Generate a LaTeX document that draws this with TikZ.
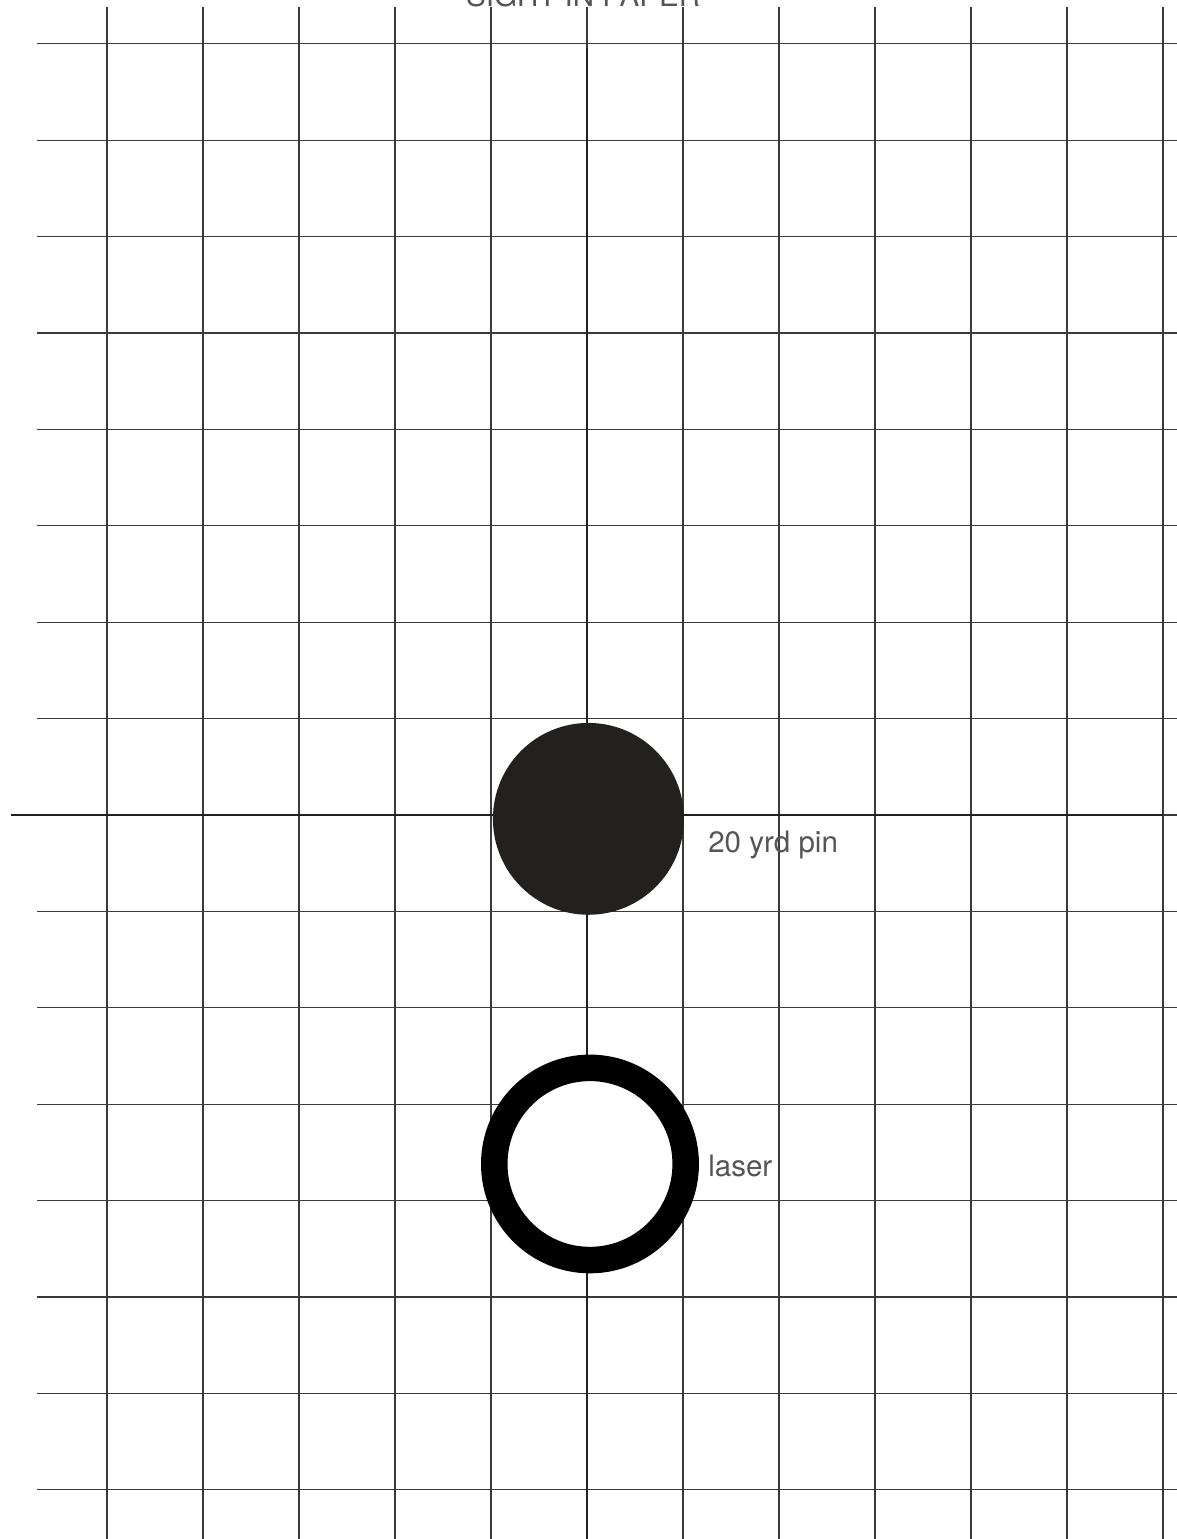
\documentclass[tikz,border=0pt]{standalone}
\usepackage{fontspec}
\setmainfont{TeX Gyre Heros}
\usepackage{tikz}
\usepackage{xcolor}

\definecolor{gridgray}{HTML}{3A3A3A}
\definecolor{pinblack}{HTML}{222120}
\definecolor{labelgray}{HTML}{555555}

\begin{document}
\begin{tikzpicture}[x=2cm, y=2.0083cm,
        gridline/.style={gridgray, line width=0.75pt},
        axisline/.style={pinblack, line width=1.5pt},
        label/.style={labelgray, font=\fontsize{17.5}{20}\selectfont, inner sep=0pt}]
        \useasboundingbox (-6.1146, -7.5104) rectangle (6.1354, 8.4544);
        % vertical grid
        \draw[gridline] (-5, 8.382) -- (-5, -7.6);
        \draw[gridline] (-4, 8.382) -- (-4, -7.6);
        \draw[gridline] (-3, 8.382) -- (-3, -7.6);
        \draw[gridline] (-2, 8.382) -- (-2, -7.6);
        \draw[gridline] (-1, 8.382) -- (-1, -7.6);
        \draw[gridline] (0, 8.382) -- (0, -7.6);
        \draw[gridline] (1, 8.382) -- (1, -7.6);
        \draw[gridline] (2, 8.382) -- (2, -7.6);
        \draw[gridline] (3, 8.382) -- (3, -7.6);
        \draw[gridline] (4, 8.382) -- (4, -7.6);
        \draw[gridline] (5, 8.382) -- (5, -7.6);
        \draw[gridline] (6, 8.382) -- (6, -7.6);
        % horizontal grid
        \draw[gridline] (-5.729, 8) -- (6.2, 8);
        \draw[gridline] (-5.729, 7) -- (6.2, 7);
        \draw[gridline] (-5.729, 6) -- (6.2, 6);
        \draw[gridline] (-5.729, 5) -- (6.2, 5);
        \draw[gridline] (-5.729, 4) -- (6.2, 4);
        \draw[gridline] (-5.729, 3) -- (6.2, 3);
        \draw[gridline] (-5.729, 2) -- (6.2, 2);
        \draw[gridline] (-5.729, 1) -- (6.2, 1);
        \draw[gridline] (-5.729, 0) -- (6.2, 0);
        \draw[gridline] (-5.729, -1) -- (6.2, -1);
        \draw[gridline] (-5.729, -2) -- (6.2, -2);
        \draw[gridline] (-5.729, -3) -- (6.2, -3);
        \draw[gridline] (-5.729, -4) -- (6.2, -4);
        \draw[gridline] (-5.729, -5) -- (6.2, -5);
        \draw[gridline] (-5.729, -6) -- (6.2, -6);
        \draw[gridline] (-5.729, -7) -- (6.2, -7);
        % axes
        \draw[axisline] (-6, 0) -- (6, 0);
        \draw[axisline] (0, 7.956) -- (0, -7.6);
        % pin and laser dot
        \fill[pinblack] (0.015, -0.04) circle (0.995);
        \draw[black, line width=0.552cm, fill=white] (0.031, -3.62) circle (0.997);
        % labels
        \node[label, anchor=base] (title) at (-0.04, 8.382) {SIGHT IN PAPER};
        \node[label, anchor=base west] (pin) at (1.26, -0.384) {20 yrd pin};
        \node[label, anchor=base west] (laser) at (1.26, -3.745) {laser};
    \end{tikzpicture}
\end{document}
